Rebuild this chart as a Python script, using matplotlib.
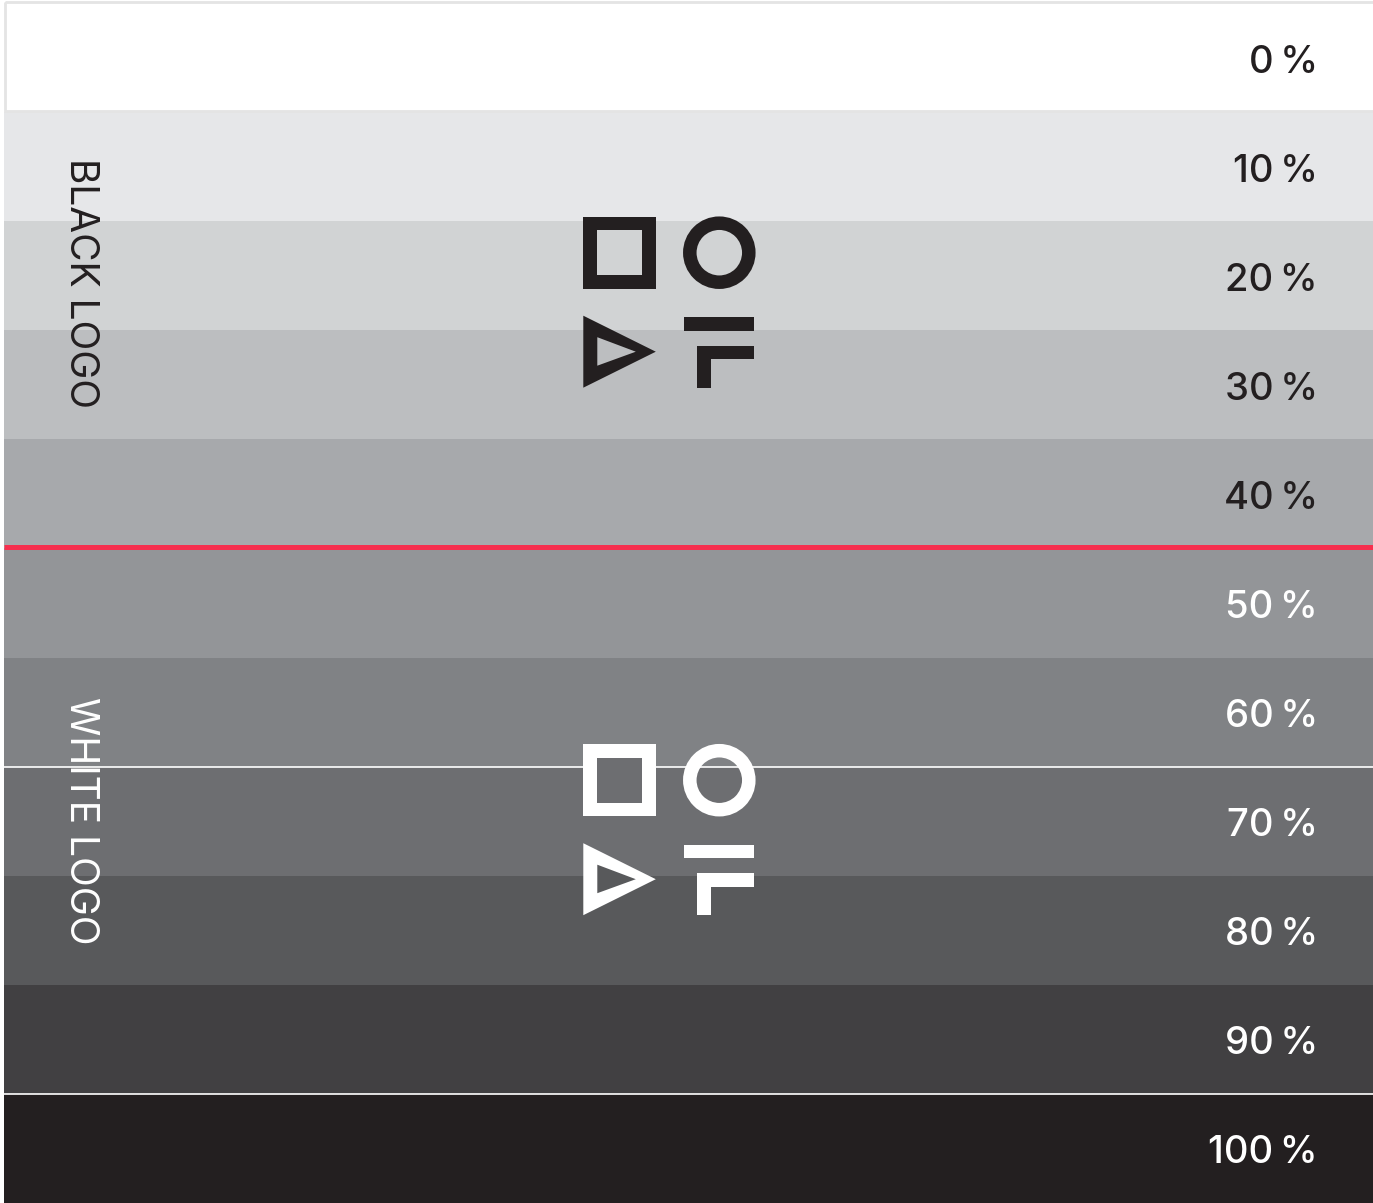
import matplotlib
matplotlib.use("Agg")
import matplotlib.pyplot as plt
from matplotlib.patches import Rectangle, Circle, Polygon

# ---- data ----
tints = [0, 10, 20, 30, 40, 50, 60, 70, 80, 90, 100]
tint_labels = ["0\u2009%", "10\u2009%", "20\u2009%", "30\u2009%", "40\u2009%", "50\u2009%",
               "60\u2009%", "70\u2009%", "80\u2009%", "90\u2009%", "100\u2009%"]
band_colors = ["#ffffff", "#e6e7e9", "#d1d3d4", "#bcbec0", "#a7a9ac", "#939598",
               "#808285", "#6d6e71", "#58595b", "#414042", "#231f20"]
label_colors = ["#231f20"] * 5 + ["#ffffff"] * 6
threshold = 50  # first tint using the white logo
white_rules = [70, 100]
logo_sections = ["BLACK LOGO", "WHITE LOGO"]

W, H = 1373, 1203
fig = plt.figure(figsize=(W / 100, H / 100), dpi=100)
ax = fig.add_axes([0, 0, 1, 1])
ax.set_xlim(0, W)
ax.set_ylim(H, 0)
ax.axis("off")

top = 3
left = 4
bh = (H - top) / len(tints)

def ypos(t):
    return top + (t / 10) * bh

ys = [ypos(t) for t in tints]
ax.barh(ys, [W - left] * len(tints), height=bh, left=left, align="edge",
        color=band_colors, linewidth=0, zorder=1)
# border around the white band
ax.add_patch(Rectangle((left + 1, top - 1), W, bh, fill=False, edgecolor="#e4e4e4", lw=2, zorder=2))

font = ["Inter", "DejaVu Sans"]
for y, lab, c in zip(ys, tint_labels, label_colors):
    ax.text(1318, y + bh / 2 + 5, lab, ha="right", va="center", fontsize=27.5,
            color=c, family=font, fontweight="medium", zorder=5)

# threshold line
ax.plot([left, W], [ypos(threshold) - 1.5] * 2, color="#f62f4e", lw=3.6,
        solid_capstyle="butt", zorder=4)
# thin white lines
for t in white_rules:
    ax.plot([left, W], [ypos(t)] * 2, color="white", lw=1.2, zorder=4)

# vertical section labels
ax.text(80, 283.5, logo_sections[0], rotation=-90, ha="center", va="center",
        fontsize=28, color="#231f20", family=font, zorder=5)
ax.text(80, 820.5, logo_sections[1], rotation=-90, ha="center", va="center",
        fontsize=28, color="#ffffff", family=font, zorder=5)

def band_bg(y):
    i = int((y - top) // bh)
    return band_colors[max(0, min(i, len(band_colors) - 1))]

def logo(x0, y0, col):
    s = 14
    # square
    ax.add_patch(Rectangle((x0, y0), 73, 72, facecolor=col, lw=0, zorder=6))
    ax.add_patch(Rectangle((x0 + s, y0 + 13.5), 73 - 2 * s, 72 - 27, facecolor=band_bg(y0 + 36), lw=0, zorder=7))
    # ring
    ax.add_patch(Circle((x0 + 136, y0 + 36), 29.5, fill=False, edgecolor=col, lw=13.5 * 0.72, zorder=6))
    # triangle
    ax.add_patch(Polygon([(x0, y0 + 99), (x0, y0 + 171), (x0 + 72.5, y0 + 135)],
                         closed=True, facecolor=col, lw=0, zorder=6))
    ax.add_patch(Polygon([(x0 + 14, y0 + 120.5), (x0 + 14, y0 + 149), (x0 + 52.5, y0 + 135)],
                         closed=True, facecolor=band_bg(y0 + 135), lw=0, zorder=7))
    # bars
    ax.add_patch(Rectangle((x0 + 100.5, y0 + 100.5), 70.5, 13.5, facecolor=col, lw=0, zorder=6))
    ax.add_patch(Rectangle((x0 + 114, y0 + 129), 57, 13.5, facecolor=col, lw=0, zorder=6))
    ax.add_patch(Rectangle((x0 + 114, y0 + 129), 13.5, 42, facecolor=col, lw=0, zorder=6))

logo(583.3, 216.7, "#231f20")
logo(583.3, 744.2, "#ffffff")

fig.savefig("out.png", dpi=100)
